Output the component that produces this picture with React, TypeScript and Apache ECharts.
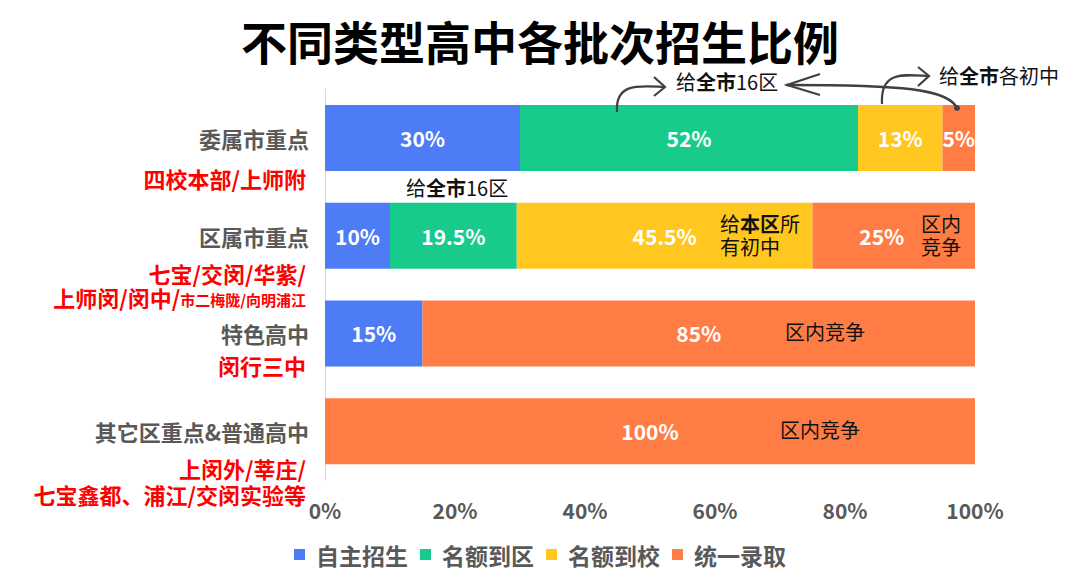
import React, { useEffect, useRef } from "react";
import * as echarts from "echarts";

const categories = ["委属市重点", "区属市重点", "特色高中", "其它区重点&普通高中"];
const seriesNames = ["自主招生", "名额到区", "名额到校", "统一录取"];
const selfRecruit = [30, 10, 15, 0];
const quotaDistrict = [52, 19.5, 0, 0];
const quotaSchool = [13, 45.5, 0, 0];
const unified = [5, 25, 85, 100];
const xTicks = { min: 0, max: 100, interval: 20 };
const colors = ["#4D7CF6", "#19CB8B", "#FFC720", "#FF7D45"];

const FONT = "'Noto Sans CJK SC', 'Noto Sans', sans-serif";

export default function App() {
  const ref = useRef<HTMLDivElement>(null);
  useEffect(() => {
    document.body.style.margin = "0";
    if (!ref.current) return;
    const chart = echarts.init(ref.current, null, { renderer: "svg" });
    const values = [selfRecruit, quotaDistrict, quotaSchool, unified];
    const series = seriesNames.map((name, i) => ({
      name,
      type: "bar",
      stack: "total",
      barWidth: 66,
      data: values[i].map((v, j) =>
        i === 3 && j === 1 ? { value: v, label: { offset: [-12, 0] } } : v
      ),
      itemStyle: { color: colors[i] },
      label: {
        show: true,
        position: "inside",
        color: "#fff",
        fontSize: 21,
        fontWeight: "bold",
        fontFamily: FONT,
        formatter: (p: any) => (p.value ? p.value + "%" : ""),
      },
    }));

    const red = { fontSize: 22, fontWeight: "bold", fill: "#FF0000", fontFamily: FONT, lineHeight: 24 };
    const redText = (text: string, y: number) => ({
      type: "text",
      right: 1080 - 306,
      top: y - 12,
      style: { text, ...red, textAlign: "right" },
    });
    const annStyle = { fontSize: 20, fill: "#111", fontFamily: FONT };
    const rich = {
      n: { fontSize: 20, fill: "#111", fontFamily: FONT },
      b: { fontSize: 20, fill: "#111", fontWeight: "bold", fontFamily: FONT },
    };
    const arrowStroke = { stroke: "#404040", lineWidth: 2.2, fill: "none" };

    chart.setOption({
      animation: false,
      title: {
        text: "不同类型高中各批次招生比例",
        left: "center",
        top: 12,
        textStyle: { fontSize: 46, fontWeight: "bold", color: "#000", fontFamily: FONT },
      },
      legend: {
        bottom: 15,
        left: "center",
        icon: "rect",
        itemWidth: 11,
        itemHeight: 11,
        itemGap: 12,
        textStyle: {
          fontSize: 23,
          fontWeight: "bold",
          color: "#595959",
          fontFamily: FONT,
          padding: [0, 0, 0, 6],
        },
        data: seriesNames,
      },
      grid: { left: 325, right: 105, top: 89, bottom: 106 },
      xAxis: {
        type: "value",
        ...xTicks,
        axisLine: { show: false },
        axisTick: { show: false },
        splitLine: { show: false },
        axisLabel: {
          formatter: "{value}%",
          fontSize: 21,
          fontWeight: "bold",
          color: "#595959",
          margin: 19,
          fontFamily: FONT,
        },
      },
      yAxis: {
        type: "category",
        data: categories,
        inverse: true,
        axisLine: { show: true, lineStyle: { color: "#D9D9D9" } },
        axisTick: { show: false },
        axisLabel: {
          fontSize: 22,
          fontWeight: "bold",
          color: "#595959",
          margin: 16,
          fontFamily: FONT,
        },
      },
      series,
      graphic: [
        redText("四校本部/上师附", 178),
        redText("七宝/交闵/华紫/", 273),
        {
          type: "text",
          right: 1080 - 306,
          top: 286,
          style: {
            text: "{a|上师闵/闵中/}{s|市二梅陇/向明浦江}",
            textAlign: "right",
            rich: {
              a: { fontSize: 22, fontWeight: "bold", fill: "#FF0000", fontFamily: FONT, lineHeight: 24 },
              s: { fontSize: 15, fontWeight: "bold", fill: "#FF0000", fontFamily: FONT, padding: [5, 0, 0, 0] },
            },
          },
        },
        redText("闵行三中", 365),
        redText("上闵外/莘庄/", 468),
        redText("七宝鑫都、浦江/交闵实验等", 494),
        // annotations
        {
          type: "text",
          left: 676,
          top: 71,
          z: 100,
          style: { text: "{n|给}{b|全市}{n|16区}", rich },
        },
        {
          type: "text",
          left: 939,
          top: 65,
          z: 100,
          style: { text: "{n|给}{b|全市}{n|各初中}", rich },
        },
        {
          type: "text",
          left: 406,
          top: 177,
          z: 100,
          style: { text: "{n|给}{b|全市}{n|16区}", rich },
        },
        {
          type: "text",
          left: 720,
          top: 212,
          z: 100,
          style: { text: "{n|给}{b|本区}{n|所}\n{n|有初中}", rich, lineHeight: 23, textAlign: "left" },
        },
        {
          type: "text",
          left: 921,
          top: 212,
          z: 100,
          style: { text: "区内\n竞争", ...annStyle, lineHeight: 23 },
        },
        {
          type: "text",
          left: 785,
          top: 321,
          z: 100,
          style: { text: "区内竞争", ...annStyle },
        },
        {
          type: "text",
          left: 780,
          top: 419,
          z: 100,
          style: { text: "区内竞争", ...annStyle },
        },
        // arrows
        {
          type: "bezierCurve",
          shape: { x1: 617, y1: 112, cpx1: 615, cpy1: 82, cpx2: 640, cpy2: 86, x2: 664, y2: 87 },
          style: arrowStroke,
          z: 100,
        },
        {
          type: "polyline",
          shape: { points: [[654, 77], [665, 87], [654, 96]] },
          style: arrowStroke,
          z: 100,
        },
        {
          type: "bezierCurve",
          shape: { x1: 882, y1: 104, cpx1: 880, cpy1: 70, cpx2: 905, cpy2: 75, x2: 929, y2: 76 },
          style: arrowStroke,
          z: 100,
        },
        {
          type: "polyline",
          shape: { points: [[918, 67], [929, 76], [918, 86]] },
          style: arrowStroke,
          z: 100,
        },
        {
          type: "bezierCurve",
          shape: { x1: 958, y1: 110, cpx1: 950, cpy1: 88, cpx2: 900, cpy2: 85, x2: 786, y2: 85 },
          style: { stroke: "#404040", lineWidth: 2.5, fill: "none" },
          z: 100,
        },
        {
          type: "polyline",
          shape: { points: [[820, 74], [787, 85], [820, 95]] },
          style: arrowStroke,
          z: 100,
        },
        {
          type: "circle",
          shape: { cx: 957, cy: 108, r: 3 },
          style: { fill: "#404040" },
          z: 100,
        },
      ],
    });
    return () => chart.dispose();
  }, []);
  return <div ref={ref} style={{ width: 1080, height: 586 }} />;
}
